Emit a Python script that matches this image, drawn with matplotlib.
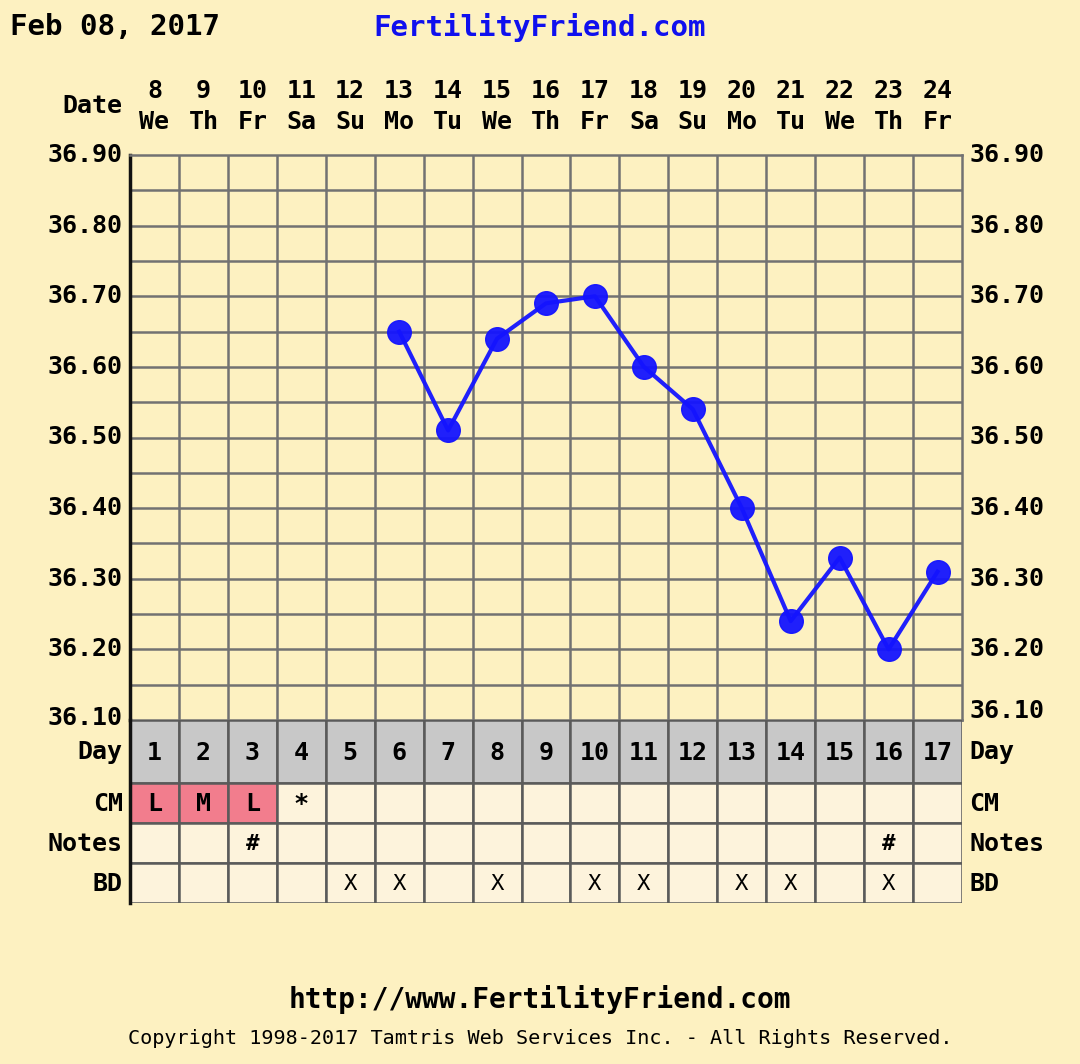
import numpy as np
import matplotlib
matplotlib.use("Agg")
import matplotlib.pyplot as plt
from matplotlib.patches import Rectangle

# data
dates = [8, 9, 10, 11, 12, 13, 14, 15, 16, 17, 18, 19, 20, 21, 22, 23, 24]
weekdays = ['We', 'Th', 'Fr', 'Sa', 'Su', 'Mo', 'Tu', 'We', 'Th', 'Fr',
            'Sa', 'Su', 'Mo', 'Tu', 'We', 'Th', 'Fr']
cycle_days = list(range(1, 18))
temps = [np.nan, np.nan, np.nan, np.nan, np.nan, 36.65, 36.51, 36.64, 36.69,
         36.70, 36.60, 36.54, 36.40, 36.24, 36.33, 36.20, 36.31]
cm = ['L', 'M', 'L', '*', '', '', '', '', '', '', '', '', '', '', '', '', '']
cm_pink = [True, True, True] + [False] * 14
notes = ['', '', '#'] + [''] * 12 + ['#', '']
bd = ['', '', '', '', 'X', 'X', '', 'X', '', 'X', 'X', '', 'X', 'X', '', 'X', '']
ytick_vals = [36.10, 36.20, 36.30, 36.40, 36.50, 36.60, 36.70, 36.80, 36.90]
row_names = ['Day', 'CM', 'Notes', 'BD']
row_heights = [63, 40, 40, 40]

BG = '#fdf1c1'
CELL = '#fdf3dc'
GRAY = '#c8c8c8'
PINK = '#f27d8d'
GRID = '#727272'
BLUE = '#1414ff'
FONT = 'DejaVu Sans Mono'
FS = 18

W, H = 1080, 1064
fig = plt.figure(figsize=(W / 100, H / 100), dpi=100, facecolor=BG)

def fx(px):
    return px / W

def fy(py):
    return 1 - py / H

# ---- temperature chart
L, R, T, B = 130, 962, 155, 720
ax = fig.add_axes([fx(L), fy(B), fx(R - L), (B - T) / H])
ax.set_facecolor(BG)
x = np.arange(1, 18)
ax.set_xlim(0.5, 17.5)
ax.set_ylim(36.10, 36.90)
for k in range(1, 17):
    ax.axvline(k + 0.5, color=GRID, lw=1.8, zorder=1)
for v in np.arange(36.15, 36.90, 0.05):
    ax.axhline(v, color=GRID, lw=1.8, zorder=1)
ax.plot(x, temps, color=BLUE, lw=3, marker='o', ms=17, zorder=3, alpha=0.95)
for s in ['top', 'right', 'bottom']:
    ax.spines[s].set_color(GRID)
    ax.spines[s].set_linewidth(1.8)
ax.spines['left'].set_color('#111111')
ax.spines['left'].set_linewidth(2.5)
ax.set_xticks([])
ax.set_yticks([])

for v in ytick_vals:
    if v == 36.10:
        continue
    ax.text(0.35, v, f'{v:.2f}', ha='right', va='center', fontsize=FS,
            fontweight='bold', family=FONT, clip_on=False)
    ax.text(17.65, v, f'{v:.2f}', ha='left', va='center', fontsize=FS,
            fontweight='bold', family=FONT, clip_on=False)
ax.text(0.35, 36.103, '36.10', ha='right', va='center', fontsize=FS,
        fontweight='bold', family=FONT, clip_on=False)
ax.text(17.65, 36.113, '36.10', ha='left', va='center', fontsize=FS,
        fontweight='bold', family=FONT, clip_on=False)

# date header
for i, (d, wd) in enumerate(zip(dates, weekdays)):
    ax.text(x[i], 36.90 + 0.09, str(d), ha='center', va='center', fontsize=FS,
            fontweight='bold', family=FONT, clip_on=False)
    ax.text(x[i], 36.90 + 0.047, wd, ha='center', va='center', fontsize=FS,
            fontweight='bold', family=FONT, clip_on=False)
ax.text(0.35, 36.90 + 0.07, 'Date', ha='right', va='center', fontsize=FS,
        fontweight='bold', family=FONT, clip_on=False)

# ---- table below
tb = 903
tax = fig.add_axes([fx(L), fy(tb), fx(R - L), (tb - B) / H])
tax.set_xlim(0.5, 17.5)
tax.set_ylim(sum(row_heights), 0)
tax.axis('off')
edges = np.concatenate([[0], np.cumsum(row_heights)])
rows = [[str(c) for c in cycle_days], cm, notes, bd]
for r, vals in enumerate(rows):
    y0, h = edges[r], row_heights[r]
    for i, val in enumerate(vals):
        if r == 0:
            fc = GRAY
        elif r == 1 and cm_pink[i]:
            fc = PINK
        else:
            fc = CELL
        tax.add_patch(Rectangle((x[i] - 0.5, y0), 1, h, facecolor=fc,
                                edgecolor='#5a5a5a', lw=1.8, zorder=1))
        if val:
            bold = val != 'X'
            tax.text(x[i], y0 + h / 2 + 1, val, ha='center', va='center',
                     fontsize=FS if r < 2 else 16,
                     fontweight='bold' if bold else 'normal',
                     family=FONT, zorder=3)
    tax.text(0.35, y0 + h / 2 + 1, row_names[r], ha='right',
             va='center', fontsize=FS, fontweight='bold', family=FONT, clip_on=False)
    tax.text(17.65, y0 + h / 2 + 1, row_names[r], ha='left', va='center',
             fontsize=FS, fontweight='bold', family=FONT, clip_on=False)
tax.plot([0.5, 0.5], [0, edges[-1]], color='#111111', lw=2.5, clip_on=False, zorder=4)

# ---- header and footer
fig.text(fx(10), fy(27), 'Feb 08, 2017', ha='left', va='center', fontsize=21,
         fontweight='bold', family=FONT)
fig.text(fx(540), fy(27), 'FertilityFriend.com', ha='center', va='center',
         fontsize=21, fontweight='bold', family=FONT, color='#1010ee')
fig.text(fx(540), fy(1000), 'http://www.FertilityFriend.com', ha='center',
         va='center', fontsize=20, fontweight='bold', family=FONT)
fig.text(fx(540), fy(1038),
         'Copyright 1998-2017 Tamtris Web Services Inc. - All Rights Reserved.',
         ha='center', va='center', fontsize=14.5, family=FONT)

fig.savefig('out.png', dpi=100, facecolor=BG)
